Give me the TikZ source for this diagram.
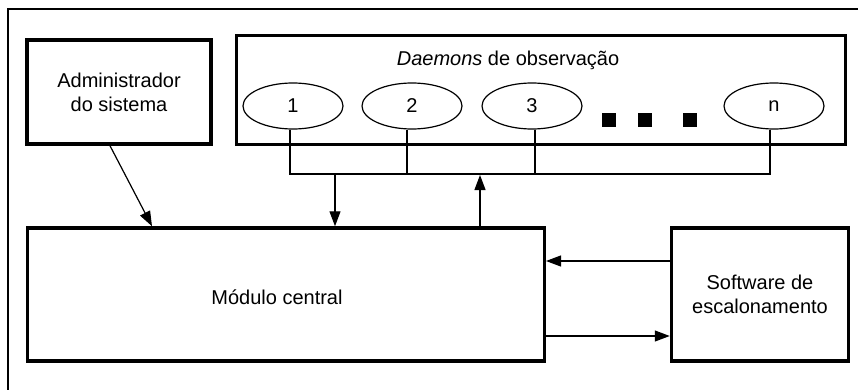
\documentclass[tikz,border=0pt]{standalone}
\usepackage{fontspec}
\setmainfont{Liberation Sans}
\usetikzlibrary{shapes.geometric,arrows.meta}
\begin{document}
\begin{tikzpicture}[x=1pt,y=-1pt,
  every node/.style={font=\fontsize{20}{24}\selectfont},
  block/.style={draw,line width=3.5pt,inner sep=0pt,align=center},
  daemon/.style={draw,ellipse,line width=1.2pt,inner sep=0pt,minimum width=100pt,minimum height=46pt},
  dot/.style={fill=black,inner sep=0pt,minimum size=14pt},
  link/.style={line width=1.2pt},
  arr/.style={line width=1.2pt,-{Triangle[length=15pt,width=11pt]}}]
  \useasboundingbox (0,0) rectangle (858,390);
  % page frame (only left and top edges fall inside the page)
  \draw[line width=1.2pt] (8,390) -- (8,9) -- (858,9);

  % main blocks
  \node[block,minimum width=184pt,minimum height=104pt] (adm) at (119,92) {Administrador\\do sistema};
  \node[block,minimum width=609pt,minimum height=109pt] (dae) at (541,90) {};
  \node (title) at (508,60) {\textit{Daemons} de observação};
  \node[block,minimum width=517pt,minimum height=133pt] (mod) at (285.75,294.5) {};
  \node (modtxt) at (277,297) {Módulo central};
  \node[block,minimum width=177pt,minimum height=133pt] (sw) at (760,294.5) {Software de\\escalonamento};

  % observation daemons
  \node[daemon] (e1) at (293,106) {1};
  \node[daemon] (e2) at (412,106) {2};
  \node[daemon] (e3) at (532,106) {3};
  \node[daemon] (en) at (774,106) {n};
  \node[dot] (d1) at (609,120) {};
  \node[dot] (d2) at (645,120) {};
  \node[dot] (d3) at (690,120) {};

  % shared bus below the daemons
  \coordinate (bus) at (0,174);
  \coordinate (dn) at (335,174);
  \coordinate (up) at (480,175);
  \draw[link] ([xshift=-3pt]e1.south) |- ([xshift=-4pt]en.south |- bus) -- ([xshift=-4pt]en.south);
  \draw[link] ([xshift=-5pt]e2.south) -- ([xshift=-5pt]e2.south |- bus);
  \draw[link] ([xshift=3pt]e3.south) -- ([xshift=3pt]e3.south |- bus);

  % connections
  \draw[arr] (dn) -- (dn |- mod.north);
  \draw[arr] (up |- mod.north) -- (up);
  \draw[arr] ([xshift=-9pt]adm.south) -- ([xshift=-133.75pt]mod.north);
  \draw[arr] ([yshift=33.5pt]sw.west) -- ([yshift=33.5pt]sw.west -| mod.east);
  \draw[arr] ([yshift=-41.5pt]mod.east) -- ([yshift=-41.5pt]mod.east -| sw.west);
\end{tikzpicture}
\end{document}
